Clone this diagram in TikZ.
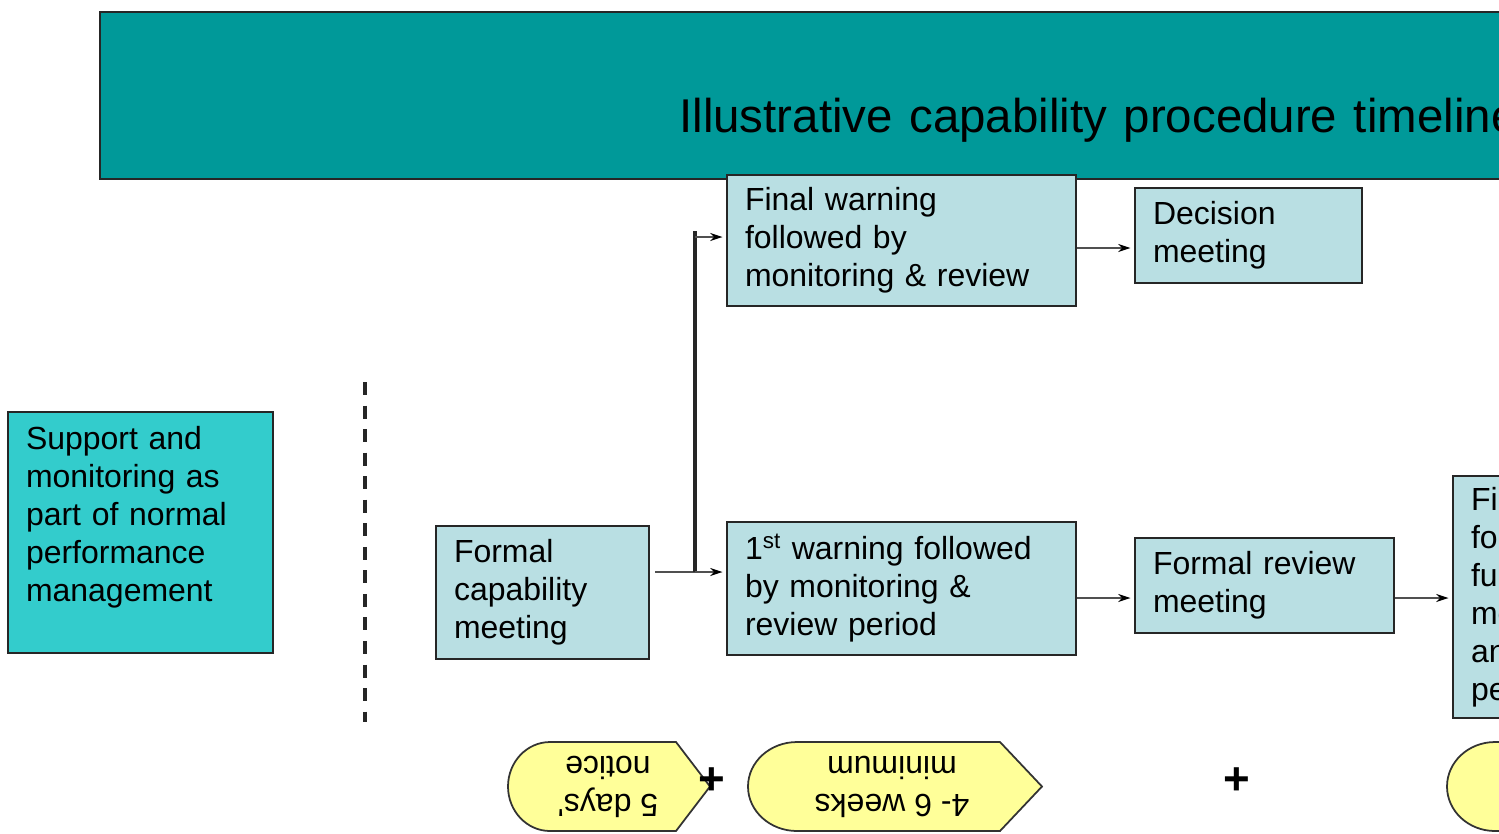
\documentclass[tikz,border=0pt]{standalone}
\usepackage{fontspec}
\setmainfont{Liberation Sans}
\usetikzlibrary{arrows.meta,positioning,calc}
\definecolor{bannerteal}{HTML}{009999}
\definecolor{supportcyan}{HTML}{33CCCC}
\definecolor{stepblue}{HTML}{B9DFE3}
\definecolor{tagyellow}{HTML}{FFFF99}
\definecolor{linegrey}{HTML}{505050}
\newcommand\boxfont{\fontsize{18.2}{21.6}\selectfont}
\newcommand\titlefont{\fontsize{27}{30}\selectfont\spaceskip=0.35em}

\begin{document}
\begin{tikzpicture}[x=0.02cm,y=-0.02cm,
    box/.style={draw=black!85,line width=1.1pt,fill=stepblue,align=left,inner xsep=0.36cm,inner ysep=0pt,font=\boxfont},
    conn/.style={draw=linegrey,line width=1.3pt,-{Stealth[length=7pt,width=4.5pt,black]},shorten >=2pt},
    tag/.style={draw=black!80,line width=1pt,fill=tagyellow},
    tagtext/.style={rotate=180,align=center,inner sep=0pt,font=\boxfont},
    plus/.style={inner sep=0pt,font=\fontsize{26}{28}\selectfont\bfseries}]

    \useasboundingbox (0,0) rectangle (1499,833);
    \clip (0,0) rectangle (1499,833);

    % title band
    \node[draw=black!85,line width=1pt,fill=bannerteal,minimum width=39.32cm,minimum height=3.34cm,inner sep=0pt] (banner) at (1083,95.5) {};
    \node[anchor=base west,inner sep=0pt,font=\titlefont] (title) at (679,132) {Illustrative capability procedure timeline};

    % steps
    \node[box,fill=supportcyan,text width=4.58cm,minimum height=4.82cm] (support) at (140.5,532.5) {Support and\\monitoring as\\part of normal\\performance\\management\\~};
    \node[box,text width=3.54cm,minimum height=2.66cm] (formal) at (542.5,592.5) {Formal\\capability\\meeting};
    \node[box,text width=6.26cm,minimum height=2.62cm] (finalwarn) at (901.5,240.5) {Final warning\\followed by\\monitoring \& review};
    \node[box,text width=6.26cm,minimum height=2.66cm] (firstwarn) at (901.5,588.5) {1\textsuperscript{st} warning followed\\by monitoring \&\\review period};
    \node[box,text width=3.82cm,minimum height=1.90cm] (decision) at (1248.5,235.5) {Decision\\meeting};
    \node[box,text width=4.46cm,minimum height=1.90cm] (review) at (1264.5,585.5) {Formal review\\meeting};
    \node[box,text width=4.88cm,minimum height=4.84cm] (further) at (1593,597) {Final warning\\followed by\\further\\monitoring\\and review\\period};

    % divider
    \coordinate (dashtop) at (365,382);
    \coordinate (dashbot) at (365,722);
    \draw[line width=2.8pt,dash pattern=on 7.4pt off 6pt,black!85] (dashtop) -- (dashbot);

    % connectors
    \coordinate (split) at (695,572);
    \coordinate (splittop) at (695,231);
    \coordinate (uptee) at (695,237);
    \coordinate (toprow) at (0,248);
    \coordinate (lowrow) at (0,598);
    \draw[linegrey,line width=1.3pt,shorten <=3pt] (formal.east |- split) -- (split);
    \draw[black!85,line width=2.6pt] (split) -- (splittop);
    \draw[conn] (split) -- (split -| firstwarn.west);
    \draw[conn] (uptee) -- (uptee -| finalwarn.west);
    \draw[conn] (finalwarn.east |- toprow) -- (decision.west |- toprow);
    \draw[conn] (firstwarn.east |- lowrow) -- (review.west |- lowrow);
    \draw[conn] (review.east |- lowrow) -- (further.west |- lowrow);

    % time tags
    \draw[tag] (550,742) -- (676,742) -- (710,786.5) -- (676,831) -- (550,831) arc[start angle=270,end angle=90,x radius=0.84cm,y radius=0.89cm] -- cycle;
    \draw[tag] (797,742) -- (1000,742) -- (1042,786.5) -- (1000,831) -- (797,831) arc[start angle=270,end angle=90,x radius=0.98cm,y radius=0.89cm] -- cycle;
    \draw[tag] (1495,742) -- (1800,742) -- (1800,831) -- (1495,831) arc[start angle=270,end angle=90,x radius=0.96cm,y radius=0.89cm] -- cycle;
    \node[tagtext] (notice) at (608,786.5) {5 days\textquotesingle\\notice};
    \node[tagtext] (weeks) at (892,786.5) {4- 6 weeks\\minimum};
    \node[plus] (plusa) at (712,781) {+};
    \node[plus] (plusb) at (1237,781) {+};
\end{tikzpicture}
\end{document}
